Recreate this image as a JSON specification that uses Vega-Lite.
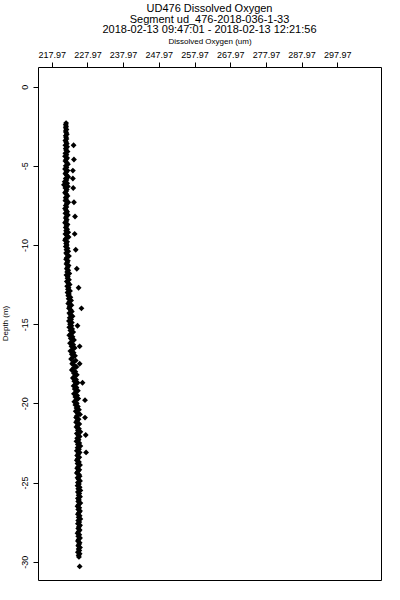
{
  "$schema": "https://vega.github.io/schema/vega-lite/v6.json",
  "width": 343,
  "height": 513,
  "autosize": "none",
  "padding": {"left": 38, "top": 67, "right": 19, "bottom": 20},
  "background": "white",
  "title": {
    "text": ["UD476 Dissolved Oxygen", "Segment ud_476-2018-036-1-33", "2018-02-13 09:47:01 - 2018-02-13 12:21:56"],
    "anchor": "middle",
    "frame": "group",
    "font": "Liberation Sans",
    "fontSize": 11,
    "fontWeight": "normal",
    "lineHeight": 10.5,
    "offset": 2,
    "color": "black"
  },
  "config": {
    "view": {"stroke": "black", "strokeWidth": 1},
    "axis": {
      "labelFont": "Liberation Sans",
      "titleFont": "Liberation Sans",
      "labelColor": "black",
      "titleColor": "black",
      "tickColor": "black",
      "domain": false,
      "grid": false,
      "tickSize": 5,
      "labelFontSize": 9,
      "titleFontSize": 8,
      "titleFontWeight": "normal"
    }
  },
  "data": {
    "values": [
      {"depth": -2.3, "oxygen": 222.0}, {"depth": -2.4, "oxygen": 221.9}, {"depth": -2.5, "oxygen": 222.0}, {"depth": -2.6, "oxygen": 221.9},
      {"depth": -2.7, "oxygen": 222.1}, {"depth": -2.8, "oxygen": 221.9}, {"depth": -2.9, "oxygen": 222.0}, {"depth": -3.0, "oxygen": 222.2},
      {"depth": -3.1, "oxygen": 221.9}, {"depth": -3.2, "oxygen": 222.0}, {"depth": -3.3, "oxygen": 222.1}, {"depth": -3.4, "oxygen": 221.8},
      {"depth": -3.5, "oxygen": 222.0}, {"depth": -3.6, "oxygen": 222.2}, {"depth": -3.7, "oxygen": 221.8}, {"depth": -3.7, "oxygen": 224.1},
      {"depth": -3.8, "oxygen": 222.3}, {"depth": -3.9, "oxygen": 221.9}, {"depth": -4.0, "oxygen": 222.0}, {"depth": -4.1, "oxygen": 222.4},
      {"depth": -4.2, "oxygen": 221.8}, {"depth": -4.3, "oxygen": 222.1}, {"depth": -4.4, "oxygen": 221.7}, {"depth": -4.5, "oxygen": 222.3},
      {"depth": -4.6, "oxygen": 222.0}, {"depth": -4.6, "oxygen": 224.2}, {"depth": -4.7, "oxygen": 221.8}, {"depth": -4.8, "oxygen": 222.2},
      {"depth": -4.9, "oxygen": 222.5}, {"depth": -5.0, "oxygen": 221.9}, {"depth": -5.1, "oxygen": 222.1}, {"depth": -5.2, "oxygen": 221.7},
      {"depth": -5.3, "oxygen": 222.4}, {"depth": -5.3, "oxygen": 223.9}, {"depth": -5.4, "oxygen": 222.0}, {"depth": -5.5, "oxygen": 221.8},
      {"depth": -5.6, "oxygen": 222.2}, {"depth": -5.7, "oxygen": 222.6}, {"depth": -5.8, "oxygen": 221.9}, {"depth": -5.8, "oxygen": 223.9},
      {"depth": -5.9, "oxygen": 222.1}, {"depth": -6.0, "oxygen": 221.6}, {"depth": -6.1, "oxygen": 222.3}, {"depth": -6.2, "oxygen": 221.4},
      {"depth": -6.3, "oxygen": 222.5}, {"depth": -6.4, "oxygen": 221.8}, {"depth": -6.4, "oxygen": 224.0}, {"depth": -6.5, "oxygen": 222.2},
      {"depth": -6.6, "oxygen": 222.0}, {"depth": -6.7, "oxygen": 221.7}, {"depth": -6.8, "oxygen": 222.1}, {"depth": -6.9, "oxygen": 222.4},
      {"depth": -7.0, "oxygen": 221.9}, {"depth": -7.1, "oxygen": 222.0}, {"depth": -7.2, "oxygen": 221.8}, {"depth": -7.3, "oxygen": 222.6},
      {"depth": -7.3, "oxygen": 224.2}, {"depth": -7.4, "oxygen": 222.2}, {"depth": -7.5, "oxygen": 221.9}, {"depth": -7.6, "oxygen": 222.1},
      {"depth": -7.7, "oxygen": 221.7}, {"depth": -7.8, "oxygen": 222.0}, {"depth": -7.9, "oxygen": 222.3}, {"depth": -8.0, "oxygen": 221.8},
      {"depth": -8.1, "oxygen": 222.5}, {"depth": -8.2, "oxygen": 222.1}, {"depth": -8.2, "oxygen": 224.5}, {"depth": -8.3, "oxygen": 221.9},
      {"depth": -8.4, "oxygen": 222.2}, {"depth": -8.5, "oxygen": 222.0}, {"depth": -8.6, "oxygen": 221.7}, {"depth": -8.7, "oxygen": 222.4},
      {"depth": -8.8, "oxygen": 222.1}, {"depth": -8.9, "oxygen": 221.9}, {"depth": -9.0, "oxygen": 222.3}, {"depth": -9.1, "oxygen": 222.0},
      {"depth": -9.2, "oxygen": 222.6}, {"depth": -9.3, "oxygen": 221.8}, {"depth": -9.3, "oxygen": 224.4}, {"depth": -9.4, "oxygen": 222.2},
      {"depth": -9.5, "oxygen": 222.7}, {"depth": -9.6, "oxygen": 221.9}, {"depth": -9.7, "oxygen": 221.7}, {"depth": -9.8, "oxygen": 222.3},
      {"depth": -9.9, "oxygen": 222.0}, {"depth": -10.0, "oxygen": 222.2}, {"depth": -10.1, "oxygen": 221.9}, {"depth": -10.2, "oxygen": 222.4},
      {"depth": -10.3, "oxygen": 222.1}, {"depth": -10.3, "oxygen": 224.7}, {"depth": -10.4, "oxygen": 222.6}, {"depth": -10.5, "oxygen": 222.0},
      {"depth": -10.6, "oxygen": 222.3}, {"depth": -10.7, "oxygen": 222.8}, {"depth": -10.8, "oxygen": 222.2}, {"depth": -10.9, "oxygen": 222.0},
      {"depth": -11.0, "oxygen": 222.5}, {"depth": -11.1, "oxygen": 222.3}, {"depth": -11.2, "oxygen": 222.1}, {"depth": -11.3, "oxygen": 222.7},
      {"depth": -11.4, "oxygen": 222.4}, {"depth": -11.5, "oxygen": 222.2}, {"depth": -11.5, "oxygen": 225.0}, {"depth": -11.6, "oxygen": 222.6},
      {"depth": -11.7, "oxygen": 222.3}, {"depth": -11.8, "oxygen": 222.9}, {"depth": -11.9, "oxygen": 222.1}, {"depth": -12.0, "oxygen": 222.5},
      {"depth": -12.1, "oxygen": 222.4}, {"depth": -12.2, "oxygen": 222.8}, {"depth": -12.3, "oxygen": 222.2}, {"depth": -12.4, "oxygen": 222.6},
      {"depth": -12.5, "oxygen": 223.0}, {"depth": -12.6, "oxygen": 222.3}, {"depth": -12.7, "oxygen": 222.7}, {"depth": -12.7, "oxygen": 225.5},
      {"depth": -12.8, "oxygen": 222.5}, {"depth": -12.9, "oxygen": 223.1}, {"depth": -13.0, "oxygen": 222.4}, {"depth": -13.1, "oxygen": 222.8},
      {"depth": -13.2, "oxygen": 222.6}, {"depth": -13.3, "oxygen": 223.2}, {"depth": -13.4, "oxygen": 222.7}, {"depth": -13.5, "oxygen": 223.4},
      {"depth": -13.6, "oxygen": 222.9}, {"depth": -13.7, "oxygen": 222.6}, {"depth": -13.8, "oxygen": 223.5}, {"depth": -13.9, "oxygen": 223.0},
      {"depth": -14.0, "oxygen": 222.8}, {"depth": -14.0, "oxygen": 226.3}, {"depth": -14.1, "oxygen": 223.3}, {"depth": -14.2, "oxygen": 223.6},
      {"depth": -14.3, "oxygen": 222.9}, {"depth": -14.4, "oxygen": 223.2}, {"depth": -14.5, "oxygen": 223.8}, {"depth": -14.6, "oxygen": 223.0},
      {"depth": -14.7, "oxygen": 223.4}, {"depth": -14.8, "oxygen": 222.8}, {"depth": -14.9, "oxygen": 223.6}, {"depth": -15.0, "oxygen": 223.1},
      {"depth": -15.1, "oxygen": 223.5}, {"depth": -15.1, "oxygen": 225.2}, {"depth": -15.2, "oxygen": 222.9}, {"depth": -15.3, "oxygen": 223.7},
      {"depth": -15.4, "oxygen": 223.2}, {"depth": -15.5, "oxygen": 224.0}, {"depth": -15.6, "oxygen": 223.4}, {"depth": -15.7, "oxygen": 222.9},
      {"depth": -15.8, "oxygen": 223.8}, {"depth": -15.9, "oxygen": 223.3}, {"depth": -16.0, "oxygen": 224.2}, {"depth": -16.1, "oxygen": 223.6},
      {"depth": -16.2, "oxygen": 223.1}, {"depth": -16.3, "oxygen": 224.0}, {"depth": -16.4, "oxygen": 223.5}, {"depth": -16.4, "oxygen": 225.8},
      {"depth": -16.5, "oxygen": 224.4}, {"depth": -16.6, "oxygen": 223.8}, {"depth": -16.7, "oxygen": 223.2}, {"depth": -16.8, "oxygen": 224.1},
      {"depth": -16.9, "oxygen": 223.6}, {"depth": -17.0, "oxygen": 224.5}, {"depth": -17.1, "oxygen": 223.9}, {"depth": -17.2, "oxygen": 223.4},
      {"depth": -17.3, "oxygen": 224.7}, {"depth": -17.4, "oxygen": 224.0}, {"depth": -17.5, "oxygen": 223.7}, {"depth": -17.5, "oxygen": 225.8},
      {"depth": -17.6, "oxygen": 224.3}, {"depth": -17.7, "oxygen": 224.9}, {"depth": -17.8, "oxygen": 224.0}, {"depth": -17.9, "oxygen": 223.6},
      {"depth": -18.0, "oxygen": 224.6}, {"depth": -18.1, "oxygen": 224.2}, {"depth": -18.2, "oxygen": 225.0}, {"depth": -18.3, "oxygen": 224.4},
      {"depth": -18.4, "oxygen": 223.9}, {"depth": -18.5, "oxygen": 224.8}, {"depth": -18.6, "oxygen": 224.3}, {"depth": -18.7, "oxygen": 225.2},
      {"depth": -18.7, "oxygen": 226.6}, {"depth": -18.8, "oxygen": 224.6}, {"depth": -18.9, "oxygen": 224.1}, {"depth": -19.0, "oxygen": 224.9},
      {"depth": -19.1, "oxygen": 224.4}, {"depth": -19.2, "oxygen": 225.3}, {"depth": -19.3, "oxygen": 224.7}, {"depth": -19.4, "oxygen": 224.2},
      {"depth": -19.5, "oxygen": 225.1}, {"depth": -19.6, "oxygen": 224.6}, {"depth": -19.7, "oxygen": 225.4}, {"depth": -19.8, "oxygen": 224.8},
      {"depth": -19.8, "oxygen": 227.3}, {"depth": -19.9, "oxygen": 224.3}, {"depth": -20.0, "oxygen": 225.0}, {"depth": -20.1, "oxygen": 224.6},
      {"depth": -20.2, "oxygen": 225.3}, {"depth": -20.3, "oxygen": 224.9}, {"depth": -20.4, "oxygen": 225.6}, {"depth": -20.5, "oxygen": 224.7},
      {"depth": -20.6, "oxygen": 225.2}, {"depth": -20.7, "oxygen": 225.9}, {"depth": -20.8, "oxygen": 225.0}, {"depth": -20.9, "oxygen": 224.8},
      {"depth": -20.9, "oxygen": 227.3}, {"depth": -21.0, "oxygen": 225.5}, {"depth": -21.1, "oxygen": 225.1}, {"depth": -21.2, "oxygen": 224.8},
      {"depth": -21.3, "oxygen": 225.7}, {"depth": -21.4, "oxygen": 225.2}, {"depth": -21.5, "oxygen": 224.9}, {"depth": -21.6, "oxygen": 225.6},
      {"depth": -21.7, "oxygen": 225.3}, {"depth": -21.8, "oxygen": 226.0}, {"depth": -21.9, "oxygen": 225.0}, {"depth": -22.0, "oxygen": 225.4},
      {"depth": -22.0, "oxygen": 227.5}, {"depth": -22.1, "oxygen": 225.8}, {"depth": -22.2, "oxygen": 225.1}, {"depth": -22.3, "oxygen": 225.5},
      {"depth": -22.4, "oxygen": 224.9}, {"depth": -22.5, "oxygen": 225.7}, {"depth": -22.6, "oxygen": 225.3}, {"depth": -22.7, "oxygen": 226.0},
      {"depth": -22.8, "oxygen": 225.2}, {"depth": -22.9, "oxygen": 225.6}, {"depth": -23.0, "oxygen": 225.0}, {"depth": -23.1, "oxygen": 225.8},
      {"depth": -23.1, "oxygen": 227.6}, {"depth": -23.2, "oxygen": 225.4}, {"depth": -23.3, "oxygen": 225.1}, {"depth": -23.4, "oxygen": 225.7},
      {"depth": -23.5, "oxygen": 225.3}, {"depth": -23.6, "oxygen": 225.0}, {"depth": -23.7, "oxygen": 225.6}, {"depth": -23.8, "oxygen": 225.2},
      {"depth": -23.9, "oxygen": 225.9}, {"depth": -24.0, "oxygen": 225.4}, {"depth": -24.1, "oxygen": 225.1}, {"depth": -24.2, "oxygen": 225.7},
      {"depth": -24.3, "oxygen": 225.3}, {"depth": -24.4, "oxygen": 225.0}, {"depth": -24.5, "oxygen": 225.6}, {"depth": -24.6, "oxygen": 225.8},
      {"depth": -24.7, "oxygen": 225.2}, {"depth": -24.8, "oxygen": 225.5}, {"depth": -24.9, "oxygen": 225.9}, {"depth": -25.0, "oxygen": 225.3},
      {"depth": -25.1, "oxygen": 225.6}, {"depth": -25.2, "oxygen": 225.2}, {"depth": -25.3, "oxygen": 225.8}, {"depth": -25.4, "oxygen": 225.4},
      {"depth": -25.5, "oxygen": 226.0}, {"depth": -25.6, "oxygen": 225.3}, {"depth": -25.7, "oxygen": 225.7}, {"depth": -25.8, "oxygen": 225.5},
      {"depth": -25.9, "oxygen": 225.9}, {"depth": -26.0, "oxygen": 225.3}, {"depth": -26.1, "oxygen": 225.6}, {"depth": -26.2, "oxygen": 225.4},
      {"depth": -26.3, "oxygen": 226.0}, {"depth": -26.4, "oxygen": 225.5}, {"depth": -26.5, "oxygen": 225.2}, {"depth": -26.6, "oxygen": 225.7},
      {"depth": -26.7, "oxygen": 225.4}, {"depth": -26.8, "oxygen": 225.9}, {"depth": -26.9, "oxygen": 225.6}, {"depth": -27.0, "oxygen": 225.3},
      {"depth": -27.1, "oxygen": 225.8}, {"depth": -27.2, "oxygen": 225.5}, {"depth": -27.3, "oxygen": 226.0}, {"depth": -27.4, "oxygen": 225.4},
      {"depth": -27.5, "oxygen": 225.7}, {"depth": -27.6, "oxygen": 225.3}, {"depth": -27.7, "oxygen": 225.9}, {"depth": -27.8, "oxygen": 225.6},
      {"depth": -27.9, "oxygen": 225.4}, {"depth": -28.0, "oxygen": 225.8}, {"depth": -28.1, "oxygen": 225.5}, {"depth": -28.2, "oxygen": 225.2},
      {"depth": -28.3, "oxygen": 225.7}, {"depth": -28.4, "oxygen": 225.4}, {"depth": -28.5, "oxygen": 225.9}, {"depth": -28.6, "oxygen": 225.5},
      {"depth": -28.7, "oxygen": 225.3}, {"depth": -28.8, "oxygen": 225.8}, {"depth": -28.9, "oxygen": 225.6}, {"depth": -29.0, "oxygen": 225.4},
      {"depth": -29.1, "oxygen": 225.9}, {"depth": -29.2, "oxygen": 225.5}, {"depth": -29.3, "oxygen": 225.7}, {"depth": -29.4, "oxygen": 225.3},
      {"depth": -29.5, "oxygen": 225.8}, {"depth": -29.6, "oxygen": 225.5}, {"depth": -29.7, "oxygen": 225.6}, {"depth": -30.3, "oxygen": 225.8}
    ]
  },
  "mark": {"type": "point", "shape": "diamond", "filled": true, "color": "black", "size": 34, "opacity": 1},
  "encoding": {
    "x": {
      "field": "oxygen",
      "type": "quantitative",
      "scale": {"domain": [214.13, 310.21], "nice": false, "zero": false},
      "axis": {
        "orient": "top",
        "title": "Dissolved Oxygen (um)",
        "values": [217.97, 227.97, 237.97, 247.97, 257.97, 267.97, 277.97, 287.97, 297.97],
        "format": ".2f",
        "labelPadding": 3,
        "titlePadding": 5,
        "labelFlush": false,
        "labelOverlap": false
      }
    },
    "y": {
      "field": "depth",
      "type": "quantitative",
      "scale": {"domain": [-31.156, 1.244], "nice": false, "zero": false},
      "axis": {
        "title": "Depth (m)",
        "values": [0, -5, -10, -15, -20, -25, -30],
        "labelExpr": "'' + datum.value",
        "labelAngle": -90,
        "labelAlign": "center",
        "labelBaseline": "alphabetic",
        "labelPadding": 6,
        "labelFlush": false,
        "labelOverlap": false,
        "titleAngle": -90,
        "titleX": -29,
        "titleY": 256,
        "titleAlign": "center",
        "titleBaseline": "bottom"
      }
    }
  }
}
